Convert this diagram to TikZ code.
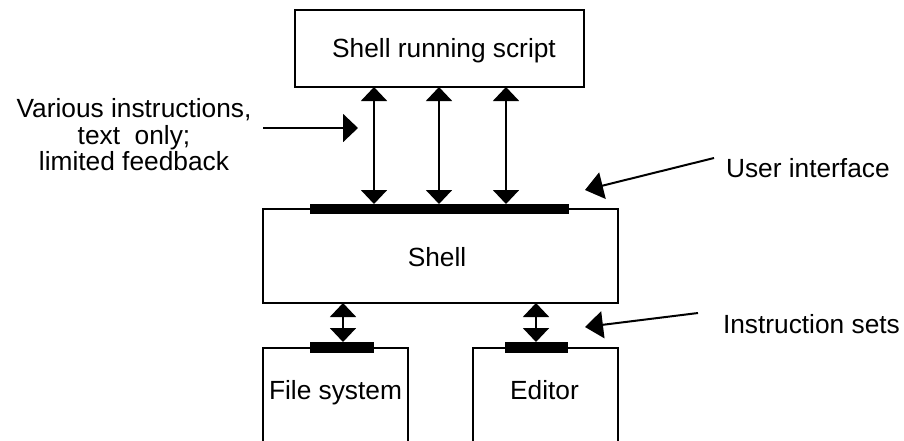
\documentclass[tikz,border=0pt]{standalone}
\usepackage{fontspec}
\setmainfont{Liberation Sans}
\usetikzlibrary{arrows.meta}
\begin{document}
\begin{tikzpicture}[x=1pt,y=-1pt,
  every node/.style={font=\fontsize{26.3}{26.5}\selectfont, inner sep=0pt, outer sep=0pt},
  box/.style={draw, line width=2pt, fill=white, rectangle},
  bar/.style={fill=black, rectangle, minimum height=10pt},
  conn/.style={line width=2pt},
  dbl/.style={conn, {Triangle[width=26pt,length=14pt]}-{Triangle[width=26pt,length=14pt]}},
  pointer/.style={conn, -{Triangle[width=27pt,length=18pt]}},
  lbl/.style={anchor=base west}]
  \clip (0,0) rectangle (904,440);
  \fill[white] (0,0) rectangle (904,440);

  % boxes
  \node[box, minimum width=289pt, minimum height=77pt] (script) at (439.5,48.5) {};
  \node (scripttext) at (444,51) {Shell running script};
  \node[box, minimum width=355pt, minimum height=94pt] (shell) at (440.5,256) {};
  \node (shelltext) at (437,257) {Shell};
  \node[box, minimum width=145pt, minimum height=140pt, anchor=north] (fs) at (335.5,348) {};
  \node (fstext) at (335.5,393) {File system};
  \node[box, minimum width=145pt, minimum height=140pt, anchor=north] (ed) at (545.5,348) {};
  \node (edtext) at (544.5,390) {Editor};

  % interface bars
  \node[bar, minimum width=259pt] (uibar) at (439.5,209) {};
  \node[bar, minimum width=64pt, minimum height=11pt] (fsbar) at (342,347.5) {};
  \node[bar, minimum width=63pt, minimum height=11pt] (edbar) at (536.5,347.5) {};

  % two-way links
  \coordinate (c1) at (374,0);
  \coordinate (c2) at (439,0);
  \coordinate (c3) at (506,0);
  \coordinate (c4) at (343,0);
  \coordinate (c5) at (536,0);
  \draw[dbl] (script.south -| c1) -- (uibar.north -| c1);
  \draw[dbl] (script.south -| c2) -- (uibar.north -| c2);
  \draw[dbl] (script.south -| c3) -- (uibar.north -| c3);
  \draw[dbl] (shell.south -| c4) -- (fsbar.north -| c4);
  \draw[dbl] (shell.south -| c5) -- (edbar.north -| c5);

  % annotations
  \node[align=center] (various) at (134,135) {Various instructions,\\text\ \ only;\\limited feedback};
  \coordinate (inA) at (263,128);
  \coordinate (inB) at (358,128);
  \draw[conn, -{Triangle[width=28pt,length=15pt]}] (inA) -- (inB);

  \node[lbl] (ui) at (726,177) {User interface};
  \coordinate (uiA) at (714,158);
  \coordinate (uiB) at (585,190);
  \draw[pointer] (uiA) -- (uiB);

  \node[lbl] (is) at (723,333) {Instruction sets};
  \coordinate (isA) at (698,313);
  \coordinate (isB) at (585,327);
  \draw[pointer] (isA) -- (isB);
\end{tikzpicture}
\end{document}
